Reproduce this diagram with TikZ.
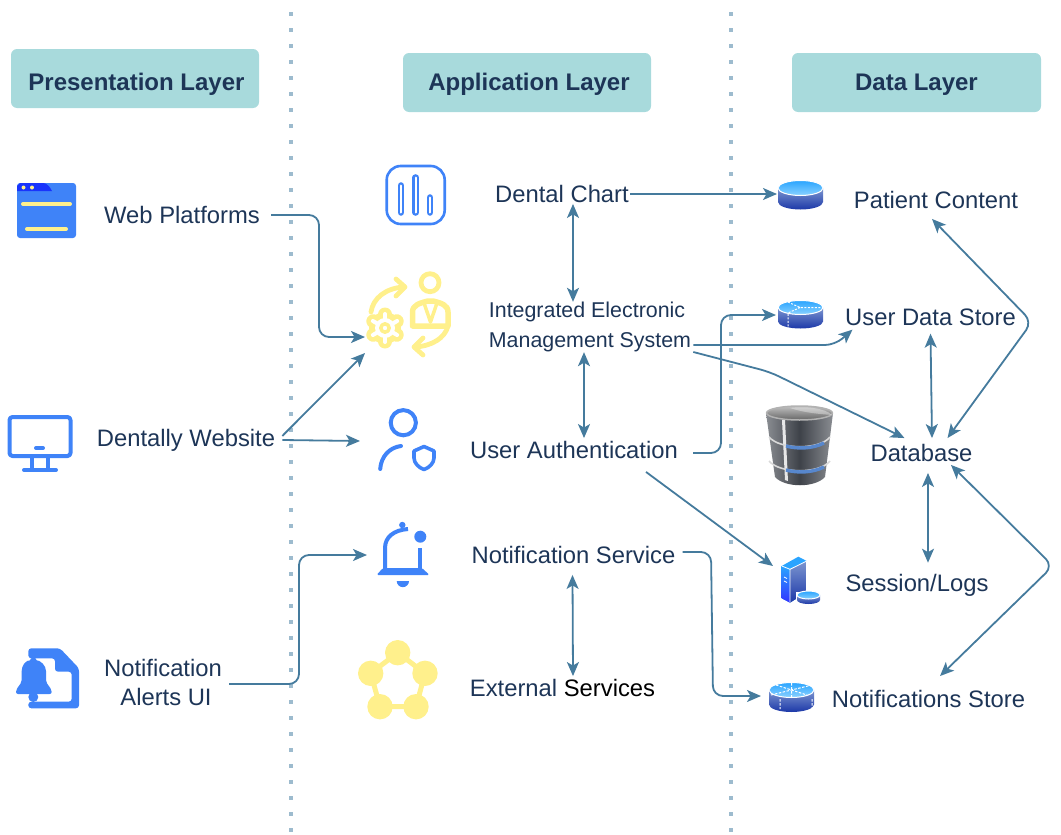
\documentclass[tikz,border=0pt]{standalone}
\usepackage{fontspec}
\setmainfont{Liberation Sans}
\usetikzlibrary{arrows.meta}
\definecolor{navy}{HTML}{1D3557}
\definecolor{steel}{HTML}{457B9D}
\definecolor{teal}{HTML}{A8DADC}
\definecolor{iconblue}{HTML}{3F83F8}
\definecolor{iconyellow}{HTML}{FFF08C}
\definecolor{dotblue}{HTML}{9DBBCE}
\definecolor{disktop}{HTML}{2AA4FF}
\definecolor{disklight}{HTML}{8AD2FF}
\definecolor{diskside}{HTML}{7D96D0}
\definecolor{diskdark}{HTML}{1C38A8}
\definecolor{drumdark}{HTML}{3E4249}
\definecolor{drumlight}{HTML}{8A8D92}
\tikzset{
	layerbox/.style={fill=teal,rounded corners=6,minimum width=248,minimum height=59,inner sep=0,text=navy,font=\fontsize{24}{29}\selectfont\bfseries},
	lbl/.style={text=navy,inner xsep=7,inner ysep=3,font=\fontsize{23.8}{29}\selectfont},
	iconbox/.style={inner sep=0,outer sep=0,minimum height=20},
	link/.style={steel,line width=1.8,rounded corners=10},
	bluestroke/.style={iconblue,line width=4,line cap=round,line join=round},
	yellowstroke/.style={iconyellow,line width=4.8,line cap=round,line join=round},
}
\newcommand{\diskicon}[5]{% x, top y, x radius, y radius, height
	\shade[top color=diskside,bottom color=diskdark] (#1-#3,#2) -- (#1-#3,#2+#5) arc[start angle=180,end angle=360,x radius=#3pt,y radius=#4pt] -- (#1+#3,#2) -- cycle;
	\shade[top color=disktop,bottom color=disklight,draw=white,line width=1] (#1,#2) ellipse[x radius=#3pt,y radius=#4pt];
}
\begin{document}
\begin{tikzpicture}[x=1pt,y=-1pt,>={Stealth[length=14pt,width=12pt,inset=3.5pt]},line join=round]
	\useasboundingbox (0,0) rectangle (1061,835);
	% dotted separators
	\foreach \x in {291,731}
	\draw[dotblue,line width=4,dash pattern=on 4pt off 12pt] (\x,12)--(\x,835);
	% layer titles
	\node[layerbox] (presentation) at (135,78.5) {\hspace*{3pt}\raisebox{-11.5pt}[0pt][0pt]{Presentation Layer}};
	\node[layerbox] (application) at (527,82.5) {\hspace*{4pt}\raisebox{-7.5pt}[0pt][0pt]{Application Layer}};
	\node[layerbox,minimum width=249] (datalayer) at (916.5,82.5) {\raisebox{-7.5pt}[0pt][0pt]{Data Layer}};
	% labels
	\node[lbl] (web) at (182,215) {Web Platforms};
	\node[lbl] (dentally) at (186,440) {Dentally Website};
	\node[lbl,align=center] (alerts) at (163,682) {Notification\\\hspace*{6pt}Alerts UI};
	\node[lbl] (chart) at (562,194) {Dental Chart};
	\node[lbl,align=left,inner ysep=0,font=\fontsize{21.4}{30}\selectfont] (iems) at (590,327) {Integrated Electronic\\Management System};
	\node[lbl] (auth) at (574,450) {User Authentication};
	\node[lbl] (notif) at (573.5,555) {Notification Service};
	\node[lbl] (external) at (562.5,688) {External \textcolor{black}{Services}};
	\node[lbl] (patient) at (936,200) {Patient Content};
	\node[lbl] (userstore) at (930.5,317) {User Data Store};
	\node[lbl] (database) at (921.5,453) {Database};
	\node[lbl] (session) at (917,585) {Session/Logs};
	\node[lbl] (notifstore) at (928.5,699) {Notifications Store};
	% anchors of the icons
	\node[iconbox,minimum width=84] (iemsicon) at (407,345) {};
	\node[iconbox,minimum width=90] (authicon) at (405,441) {};
	\node[iconbox,minimum width=72] (bellicon) at (403,555) {};
	\node[iconbox,minimum width=47] (diskone) at (800.5,194) {};
	\node[iconbox,minimum width=49] (disktwo) at (800.5,315) {};
	\node[iconbox,minimum width=60] (servericon) at (803,566) {};
	\node[iconbox,minimum width=60] (diskthree) at (791,696) {};
	% web window
	\fill[iconblue,rounded corners=3] (17,183) rectangle (76,238);
	\fill[blue!60!iconblue] (20,183)--(43,183) .. controls (47,183) and (50,187) .. (52,191)--(17,191)--(17,186)--cycle;
	\foreach \x in {23.5,32} \fill[iconyellow] (\x,187.5) circle (2);
	\draw[iconyellow,line width=4,line cap=round] (23,204)--(70,204) (27,229)--(66,229);
	% monitor
	\draw[bluestroke,rounded corners=3] (9.5,417) rectangle (70.5,456);
	\draw[bluestroke] (36,448)--(43,448) (24,470)--(56,470);
	\draw[bluestroke,line cap=butt] (32.3,456)--(32.3,470) (47.7,456)--(47.7,470);
	% alert document
	\fill[iconblue,rounded corners=3] (28.3,658.3)--(28.3,648.3)--(60,648.3)--(79,668.3)--(79,708.3)--(28.3,708.3)--(28.3,701.7)--(71.7,701.7)--(71.7,671.7)--(55,671.7)--(55,658.3)--cycle;
	\fill[white] (12,657) rectangle (28.3,702);
	\fill[iconblue] (33.3,661) circle (3.5) (33.3,697) circle (5);
	\fill[iconblue,rounded corners=2] (33.3,660) .. controls (25,660) and (21.7,666) .. (21.7,673)--(21.7,682)--(16,690)--(16,694)--(51.7,694)--(51.7,690)--(46,682)--(46,673) .. controls (46,666) and (41,660) .. (33.3,660)--cycle;
	% chart icon
	\draw[iconblue,line width=2.6,rounded corners=14] (386.7,166)rectangle(444.7,224);
	\foreach \x/\t in {401/185.5,415.7/177.5,430/197.5} {
		\draw[iconblue,line width=6.6,line cap=round] (\x,\t)--(\x,212.5);
		\draw[white,line width=2,line cap=round] (\x,\t)--(\x,212.5);
	}
	% management icon
	\draw[yellowstroke] (430,282.7) circle (9);
	\draw[yellowstroke,line width=5.5] (412.5,326) -- (412.5,312) .. controls (412.5,305) and (420,303) .. (428,301)--(433,301) .. controls (441,303) and (448,305) .. (448,312)--(448,326)--cycle;
	\draw[yellowstroke,line width=3.5] (424,303)--(430.5,322)--(437,303);
	\draw[yellowstroke] (448,326) .. controls (445,338) and (432,346) .. (415,347);
	\draw[yellowstroke] (423,338)--(414,347)--(423,355);
	\draw[yellowstroke] (371,312) .. controls (373,298) and (386,288) .. (404,287);
	\draw[yellowstroke] (396,279)--(405,287)--(396,296);
	\foreach \a in {0,60,...,300} \draw[iconyellow,line width=14,line cap=round] (385,328)--++(\a+30:13.5);
	\fill[iconyellow] (385,328) circle (16);
	\foreach \a in {0,60,...,300} \draw[white,line width=4,line cap=round] (385,328)--++(\a+30:14);
	\fill[white] (385,328) circle (10);
	\draw[iconyellow,line width=3.5] (385,328) circle (4.2);
	% user with shield
	\draw[bluestroke] (403.3,422.7) circle (12.6);
	\draw[bluestroke] (380.2,469) .. controls (381,457) and (389,447.5) .. (401,446);
	\draw[iconblue,line width=3.6,line join=round] (424,446.5)--(434,451)--(434,458) .. controls (434,463) and (429,468) .. (424,469.5) .. controls (419,468) and (414,463) .. (414,458)--(414,451)--cycle;
	% bell
	\fill[iconblue] (402.3,525) circle (3.2);
	\draw[bluestroke,line cap=butt] (385,569) -- (385,548) .. controls (385,537) and (394,530) .. (408,529);
	\draw[bluestroke,line cap=butt] (420,548)--(420,569);
	\fill[iconblue,rounded corners=1.5] (376.5,575) -- (383,568) -- (422,568) -- (429.5,575) -- cycle;
	\fill[iconblue] (420.3,536.7) circle (6);
	\fill[iconblue] (396.7,581)--(409,581) arc[start angle=0,end angle=-180,radius=6.15pt]--cycle;
	% external services
	\draw[iconyellow,line width=5] (397.7,652.7)--(425,673.3)--(416,706.7)--(380,706.7)--(370.7,673.3)--cycle;
	\foreach \x/\y in {397.7/652.7,425/673.3,416/706.7,380/706.7,370.7/673.3}
	\fill[iconyellow] (\x,\y) circle (12.7);
	% storage icons
	\diskicon{800.5}{188}{22.5}{7.5}{14}
	\diskicon{800.5}{307.5}{22.5}{7}{14}
	\draw[white,line width=1,dash pattern=on 2pt off 1.5pt] (788,302)--(800,307.5)--(823,307.5) (800,307.5)--(788,313)--(788,328);
	\diskicon{791.5}{690}{22.5}{7.5}{14.5}
	\draw[white,line width=1,dash pattern=on 2.5pt off 1.5pt] (771,695)--(812,685) (776,685)--(807,695) (791.5,683)--(791.5,697) (780,699)--(780,709) (812,699)--(812,708);
	\shade[left color=disktop,right color=diskdark] (781.7,566)--(790,569.3)--(806.7,561)--(806.7,592)--(790,602.7)--(781.7,598.3)--cycle;
	\shade[top color=diskside,bottom color=diskdark] (790,569.3)--(806.7,561)--(806.7,592)--(790,602.7)--cycle;
	\fill[disktop] (781.7,566)--(798.3,556.7)--(806.7,561)--(790,569.3)--cycle;
	\shade[top color=disktop,bottom color=blue!80] (781.7,566)--(790,569.3)--(790,602.7)--(781.7,598.3)--cycle;
	\draw[white,line width=0.8] (781.7,566)--(790,569.3)--(806.7,561) (790,569.3)--(790,602.7);
	\draw[white,line width=0.7] (784,577)--(787,578.5) (784,581)--(787,582.5);
	\fill[white] (796,592) rectangle (821,604.5);
	\diskicon{808.5}{595}{11.5}{4}{5}
	% database icon
	\shade[left color=drumlight,right color=drumlight,middle color=drumdark] (766,413)--(775,477) .. controls (785,488) and (815,488) .. (825,477)--(833,413)--cycle;
	\fill[white,opacity=0.85] (782,420)--(785,420)--(788,481)--(785,480)--cycle;
	\shade[top color=black!25,bottom color=black!60,draw=black!30,line width=1.5] (799.5,413) ellipse[x radius=33pt,y radius=7pt];
	\fill[white,opacity=0.35] (790,408) .. controls (805,406) and (825,408) .. (832,415) .. controls (820,414) and (805,413) .. (790,408)--cycle;
	\foreach \t in {0,24} {
		\draw[black!15,line width=1.6] (769,{437+\t}) .. controls (780,{450+\t}) and (820,{450+\t}) .. (830,{437+\t});
		\draw[cyan!45!blue!70,line width=3.4] (786,{446+\t}) .. controls (797,{449+\t}) and (812,{449+\t}) .. (824,{443+\t});
	}
	% connectors
	\draw[link,->] ([xshift=4pt]web.east)--(319,215)--(319,337)--([yshift=8pt]iemsicon.west);
	\draw[link,->] ([yshift=4pt]dentally.east)--([yshift=-8pt]iemsicon.west);
	\draw[link,->] (dentally.east)--(authicon.west);
	\draw[link,->] ([yshift=-2pt]alerts.east)--(299,684)--(299,555)--(bellicon.west);
	\draw[link,->] ([xshift=-6pt]chart.east)--(diskone.west);
	\draw[link,<->] ([xshift=11pt,yshift=2pt]chart.south)--([xshift=-17pt]iems.north);
	\draw[link,<->] ([xshift=-6pt]iems.south)--([xshift=10pt]auth.north);
	\draw[link,<->] ([xshift=-1pt,yshift=-8pt]notif.south)--([xshift=10.5pt]external.north);
	\draw[link,->] ([xshift=-5pt,yshift=-18pt]iems.east)--(835,345)--([xshift=-78pt,yshift=-1pt]userstore.south);
	\draw[link,->] ([xshift=8pt,yshift=-3pt]auth.east)--(721,453)--(721,315)--(disktwo.west);
	\draw[link,->] ([xshift=-5pt,yshift=-25pt]iems.east)--(770,372)--([xshift=-17pt,yshift=3pt]database.north);
	\draw[link,->] ([xshift=72pt,yshift=-10pt]auth.south)--(servericon.west);
	\draw[link,->] ([yshift=3pt]notif.east)--(711,552)--(713,696)--(diskthree.west);
	\draw[link,<->] ([xshift=-4pt,yshift=-7pt]patient.south)--(1032,322)--([xshift=26pt,yshift=3pt]database.north);
	\draw[link,<->] ([yshift=-5pt]userstore.south)--([xshift=10.5pt,yshift=3pt]database.north);
	\draw[link,<->] ([xshift=6.5pt,yshift=-8pt]database.south)--([xshift=11pt,yshift=8pt]session.north);
	\draw[link,<->] ([xshift=29.5pt]database.south)--(1053,566)--([xshift=11.5pt,yshift=11pt]notifstore.north);
\end{tikzpicture}
\end{document}
